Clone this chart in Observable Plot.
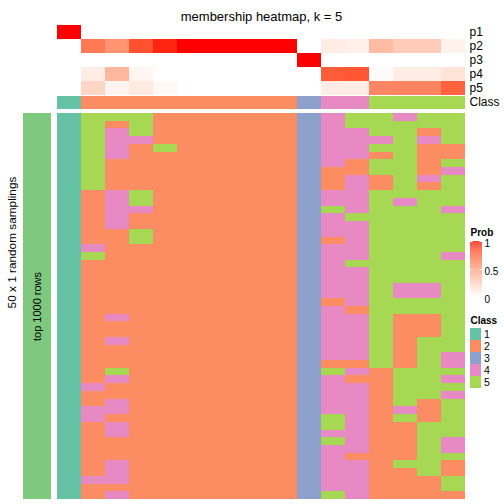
<!DOCTYPE html>
<html><head><meta charset="utf-8">
<script src="https://cdn.jsdelivr.net/npm/d3@7"></script>
<script src="https://cdn.jsdelivr.net/npm/@observablehq/plot@0.6"></script>
<style>
html,body{margin:0;padding:0;background:#fff;}
#chart{position:relative;width:504px;height:504px;}
#chart svg{position:absolute;left:0;top:0;}
</style></head><body><div id="chart"></div>
<script>
const title = "membership heatmap, k = 5";
const sideTitle = "50 x 1 random samplings";
const leftLabel = "top 1000 rows";
const samples = ["s01","s02","s03","s04","s05","s06","s07","s08","s09","s10","s11","s12","s13","s14","s15","s16","s17"];
const probRows = ["p1","p2","p3","p4","p5"];
const p1 = [1,0,0,0,0,0,0,0,0,0,0,0,0,0,0,0,0];
const p2 = [0,0.68,0.56,0.84,0.96,1,1,1,1,1,0,0.1,0.08,0.36,0.27,0.27,0.07];
const p3 = [0,0,0,0,0,0,0,0,0,0,1,0,0,0,0,0,0];
const p4 = [0,0.1,0.38,0.05,0,0,0,0,0,0,0,0.8,0.82,0.02,0.1,0.1,0.15];
const p5 = [0,0.22,0.06,0.11,0.04,0,0,0,0,0,0,0.1,0.1,0.62,0.63,0.63,0.78];
const classAnno = [1,2,2,2,2,2,2,2,2,2,3,4,4,5,5,5,5];
const classIds = [1,2,3,4,5];
const classColors = ["#66C2A5","#FC8D62","#8DA0CB","#E78AC3","#A6D854"];
const probTicks = [0, 0.5, 1];
// one string per column, 50 rows (class per random sampling)
const membership = [
  "11111111111111111111111111111111111111111111111111",
  "55555555552222222452222222222222222422442222222422",
  "52444422224444422222222222422422254224424422244424",
  "55542222225542255222222222222222222222222222222222",
  "22225222222222222222222222222222222222222222222222",
  "22222222222222222222222222222222222222222222222222",
  "22222222222222222222222222222222222222222222222222",
  "22222222222222222222222222222222222222222222222222",
  "22222222222222222222222222222222222222222222222222",
  "22222222222222222222222222222222222222222222222222",
  "33333333333333333333333333333333333333333333333333",
  "44444442224454442444444424444444254444455454444445",
  "55444422444445444445444442444444242444444444244444",
  "55545255225555555555555555555555522222222222222222",
  "45555555555455555555554455222222255555452222252222",
  "55242222425555555555554455222555555552225555555222",
  "55552254555545555545555555555554454545555544522552"
];

const font = "'Liberation Sans', Arial, Helvetica, sans-serif";
const W = 504, H = 504;
const chart = document.getElementById("chart");
function overlay(opts, fs) {
  const el = Plot.plot({width: W, height: H, style: {fontFamily: font, fontSize: (fs || 12) + "px", background: "transparent", overflow: "visible"}, ...opts});
  chart.appendChild(el);
  return el;
}
const xCols = {type: "band", domain: samples, padding: 0, axis: null};
const probColor = {type: "linear", domain: [0, 1], range: ["white", "red"], interpolate: "lab"};
const classColor = {type: "ordinal", domain: classIds, range: classColors};

// top annotation: probabilities
const probArrays = [p1, p2, p3, p4, p5];
const probData = [];
probArrays.forEach((arr, i) => arr.forEach((v, j) => probData.push({sample: samples[j], row: probRows[i], value: v})));
const annoY = {type: "band", domain: [...probRows, "Class"], padding: 0, label: null};
overlay({
  marginLeft: 57, marginRight: W - 465, marginTop: 24, marginBottom: H - 110.3,
  x: xCols,
  y: {...annoY, axis: "right", tickSize: 0, tickPadding: 4},
  color: probColor,
  marks: [
    Plot.cell(probData, {x: "sample", y: "row", fill: "value", inset: 0, shapeRendering: "crispEdges"}),
    Plot.text([title], {frameAnchor: "top", dy: -13, fontSize: 13})
  ]
});
// top annotation: class row
overlay({
  marginLeft: 57, marginRight: W - 465, marginTop: 24, marginBottom: H - 110.3,
  x: xCols,
  y: {...annoY, axis: null},
  color: classColor,
  marks: [
    Plot.cell(classAnno, {x: (d, i) => samples[i], y: () => "Class", fill: d => d, insetTop: 1, shapeRendering: "crispEdges"})
  ]
});
// main heatmap
const cellData = [];
membership.forEach((s, j) => s.split("").forEach((c, r) => cellData.push({sample: samples[j], row: r, cls: +c})));
overlay({
  marginLeft: 57, marginRight: W - 465, marginTop: 113, marginBottom: H - 499,
  x: xCols,
  y: {type: "band", domain: d3.range(membership[0].length), padding: 0, axis: null},
  color: classColor,
  marks: [
    Plot.cell(cellData, {x: "sample", y: "row", fill: "cls", inset: 0, shapeRendering: "crispEdges"})
  ]
});
// left bar
overlay({
  marginLeft: 23, marginRight: W - 51, marginTop: 113, marginBottom: H - 499,
  x: {type: "band", domain: [leftLabel], padding: 0, axis: null},
  marks: [
    Plot.cell([leftLabel], {x: d => d, fill: "#7FC97F"}),
    Plot.text([leftLabel], {x: d => d, frameAnchor: "middle", rotate: -90, fontSize: 11})
  ]
}, 11);
// side title
overlay({
  marginLeft: 12, marginRight: 0, marginTop: 0, marginBottom: H - 484,
  marks: [Plot.text([sideTitle], {frameAnchor: "left", textAnchor: "middle", rotate: -90, fontSize: 11.8})]
});
// prob legend
const gradSteps = d3.range(0, 1, 0.01);
overlay({
  marginLeft: 470, marginRight: W - 482, marginTop: 241, marginBottom: H - 297,
  x: {type: "band", domain: ["Prob"], padding: 0, axis: null},
  y: {type: "linear", domain: [0, 1], axis: null},
  color: probColor,
  marks: [
    Plot.barY(gradSteps, {x: () => "Prob", y1: d => d, y2: d => Math.min(1, d + 0.0105), fill: d => d + 0.005, inset: 0}),
    Plot.tickY([0.5, 1], {x: () => "Prob", y: d => d, stroke: "white", strokeDasharray: "2.5,7,2.5"}),
    Plot.text(probTicks, {x: () => "Prob", y: d => d, text: d => String(d), textAnchor: "start", dx: 8, dy: 2.5, fontSize: 10}),
    Plot.text(["Prob"], {x: () => "Prob", y: () => 1, textAnchor: "start", dx: -6, dy: -9, fontSize: 10, fontWeight: "bold"})
  ]
}, 10);
// class legend
overlay({
  marginLeft: 470, marginRight: W - 481, marginTop: 326, marginBottom: H - 390,
  x: {type: "band", domain: ["Class"], padding: 0, axis: null},
  y: {type: "band", domain: classIds, padding: 0, axis: null},
  color: classColor,
  marks: [
    Plot.cell(classIds, {x: () => "Class", y: d => d, fill: d => d, inset: 0}),
    Plot.text(classIds, {x: () => "Class", y: d => d, text: d => String(d), textAnchor: "start", dx: 8, fontSize: 10.5}),
    Plot.text(["Class"], {frameAnchor: "top-left", dy: -10, fontSize: 10, fontWeight: "bold"})
  ]
}, 10);
</script></body></html>
